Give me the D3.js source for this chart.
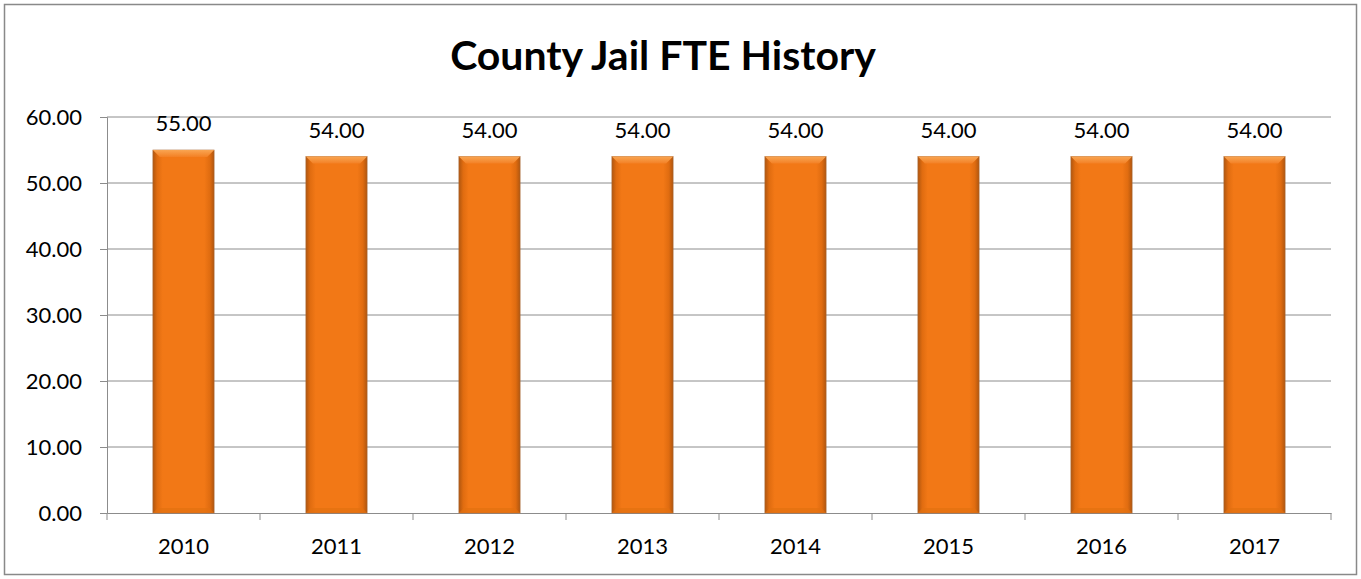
<!DOCTYPE html>
<html><head><meta charset="utf-8">
<script src="https://cdn.jsdelivr.net/npm/d3@7"></script>
<style>body{margin:0;background:#fff;} svg{display:block;}</style>
</head><body>
<script>
const title = "County Jail FTE History";
const categories = ["2010","2011","2012","2013","2014","2015","2016","2017"];
const values = [55, 54, 54, 54, 54, 54, 54, 54];
const yTicks = [0, 10, 20, 30, 40, 50, 60];

const W = 1361, H = 579;
const font = "Lato, 'Open Sans', sans-serif";
const svg = d3.select("body").append("svg").attr("width", W).attr("height", H);

svg.append("rect").attr("x", 4.5).attr("y", 4.5).attr("width", W - 9).attr("height", H - 9)
  .attr("fill", "#fff").attr("stroke", "#898989").attr("stroke-width", 1.5);

const m = {left: 107, right: 1331, top: 117, bottom: 513};
const x = d3.scaleBand().domain(categories).range([m.left, m.right]).paddingInner(0.6).paddingOuter(0.3);
const xb = d3.scaleBand().domain(categories).range([m.left, m.right]);
const y = d3.scaleLinear().domain([0, 60]).range([m.bottom, m.top]);

const defs = svg.append("defs");
const g1 = defs.append("linearGradient").attr("id", "barH").attr("x1", 0).attr("x2", 1).attr("y1", 0).attr("y2", 0);
[[0, "#b0560f"], [0.07, "#e06c10"], [0.16, "#f27816"], [0.84, "#f27816"], [0.93, "#e06c10"], [1, "#b0560f"]]
  .forEach(([o, c]) => g1.append("stop").attr("offset", o).attr("stop-color", c));
const g2 = defs.append("linearGradient").attr("id", "bevel").attr("x1", 0).attr("x2", 0).attr("y1", 0).attr("y2", 1);
[[0, "#f9a552"], [1, "#f38024"]].forEach(([o, c]) => g2.append("stop").attr("offset", o).attr("stop-color", c));

// gridlines
svg.append("g").selectAll("line").data(yTicks.filter(d => d > 0)).join("line")
  .attr("x1", m.left).attr("x2", m.right).attr("y1", d => y(d)).attr("y2", d => y(d))
  .attr("stroke", "#8c8c8c").attr("stroke-width", 1);

// y axis
const yAxis = svg.append("g").attr("transform", `translate(${m.left},0)`)
  .call(d3.axisLeft(y).tickValues(yTicks).tickFormat(d3.format(".2f")).tickSize(7).tickPadding(18));
yAxis.select(".domain").attr("stroke", "#8c8c8c");
yAxis.selectAll(".tick line").attr("stroke", "#8c8c8c");
yAxis.selectAll("text").attr("font-family", font).attr("font-size", 22).attr("fill", "#000");

// x axis
const xAxis = svg.append("g").attr("transform", `translate(0,${m.bottom})`)
  .call(d3.axisBottom(x).tickSize(0).tickPadding(25));
xAxis.select(".domain").attr("stroke", "#8c8c8c");
xAxis.selectAll("text").attr("font-family", font).attr("font-size", 22).attr("fill", "#000");
svg.append("g").selectAll("line").data(categories.concat(["end"])).join("line")
  .attr("x1", (d, i) => i < categories.length ? xb(d) : m.right)
  .attr("x2", (d, i) => i < categories.length ? xb(d) : m.right)
  .attr("y1", m.bottom).attr("y2", m.bottom + 7).attr("stroke", "#8c8c8c");

// bars
const bars = svg.append("g").selectAll("g").data(categories).join("g");
bars.append("rect").attr("x", d => x(d)).attr("width", x.bandwidth())
  .attr("y", (d, i) => y(values[i])).attr("height", (d, i) => y(0) - y(values[i]))
  .attr("fill", "url(#barH)").attr("stroke", "#a86a3a").attr("stroke-width", 0.6);
// top bevel
bars.append("path").attr("d", (d, i) => {
  const x0 = x(d), x1 = x0 + x.bandwidth(), t = y(values[i]), b = 7;
  return `M${x0},${t}L${x1},${t}L${x1 - b},${t + b}L${x0 + b},${t + b}Z`;
}).attr("fill", "url(#bevel)");
// bottom bevel
bars.append("path").attr("d", (d, i) => {
  const x0 = x(d), x1 = x0 + x.bandwidth(), bt = y(0), b = 5;
  return `M${x0},${bt}L${x1},${bt}L${x1 - b},${bt - b}L${x0 + b},${bt - b}Z`;
}).attr("fill", "#e2700f").attr("opacity", 0.7);

// labels
svg.append("g").selectAll("text").data(categories).join("text")
  .attr("x", d => x(d) + x.bandwidth() / 2).attr("y", (d, i) => y(values[i]) - 19)
  .attr("text-anchor", "middle").attr("font-family", font).attr("font-size", 22).attr("fill", "#000")
  .text((d, i) => d3.format(".2f")(values[i]));

svg.append("text").attr("x", 663).attr("y", 70).attr("text-anchor", "middle")
  .attr("font-family", font).attr("font-weight", "bold").attr("font-size", 41).attr("fill", "#000")
  .text(title);
</script>
</body></html>
